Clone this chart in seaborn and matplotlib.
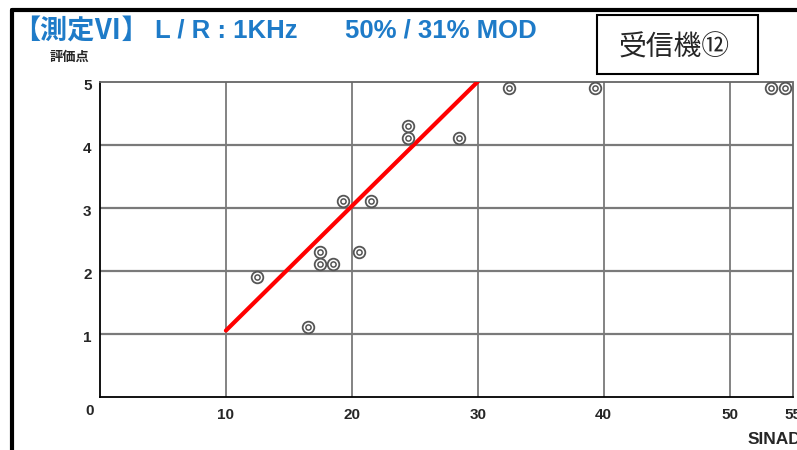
import matplotlib
matplotlib.use("Agg")
import matplotlib.pyplot as plt
import seaborn as sns
import pandas as pd
from matplotlib.lines import Line2D
from matplotlib.patches import Rectangle
from matplotlib.transforms import ScaledTranslation

# ---- data ----
sinad = [12.5, 16.5, 17.5, 17.5, 18.5, 20.6, 19.3, 21.5, 24.5, 24.5, 28.5, 32.5, 39.3, 53.3, 54.4]
score = [1.9, 1.1, 2.3, 2.1, 2.1, 2.3, 3.1, 3.1, 4.3, 4.1, 4.1, 4.9, 4.9, 4.9, 4.9]
fit_x = [10, 30]
fit_y = [1.05, 5.0]
x_ticks = [10, 20, 30, 40, 50, 55]
y_ticks = [1, 2, 3, 4, 5]
title_parts = ["【測定Ⅵ】", "L / R : 1KHz", "50% / 31% MOD"]
ylabel = "評価点"
xlabel = "SINAD"
receiver = "受信機⑫"

sns.set_theme(style="white")
plt.rcParams['font.family'] = ['Noto Sans CJK JP', 'DejaVu Sans']

fig = plt.figure(figsize=(7.97, 4.5), dpi=100)
ax = fig.add_axes([100/797, 1-396.7/450, (792.5-100)/797, (396.7-81.7)/450])

df = pd.DataFrame({"x": sinad, "y": score})
dfl = pd.DataFrame({"x": fit_x, "y": fit_y})

ax.set_xlim(0, 55)
ax.set_ylim(0, 5)

# grid
for xv in [10, 20, 30, 40, 50]:
    ax.axvline(xv, color="#7a7a7a", lw=1.3, zorder=1)
for yv in [1, 2, 3, 4]:
    ax.axhline(yv, color="#7a7a7a", lw=1.6, zorder=1)

sns.lineplot(data=dfl, x="x", y="y", color="#ff0000", lw=3, ax=ax, zorder=3)
sns.scatterplot(data=df, x="x", y="y", s=70, facecolor="white", edgecolor="#555555",
                linewidth=1.3, ax=ax, zorder=4)
sns.scatterplot(data=df, x="x", y="y", s=14, facecolor="white", edgecolor="#555555",
                linewidth=1.1, ax=ax, zorder=5)

for side in ["left", "bottom"]:
    ax.spines[side].set_color("black")
    ax.spines[side].set_linewidth(1.3)
for side in ["top", "right"]:
    ax.spines[side].set_color("#666666")
    ax.spines[side].set_linewidth(1.3)
    ax.spines[side].set_linestyle((0, (1, 1)))

tick_font = dict(fontsize=11, fontweight="bold", family=["Liberation Sans"])
ax.set_xticks(x_ticks)
ax.set_xticklabels([str(t) for t in x_ticks], **tick_font)
ax.set_yticks(y_ticks)
ax.set_yticklabels([str(t) for t in y_ticks], **tick_font)
ax.tick_params(axis="both", length=0)
ax.tick_params(axis="x", pad=8)
ax.tick_params(axis="y", pad=6)
shift = ScaledTranslation(0, -4/100, fig.dpi_scale_trans)
for lab in ax.get_yticklabels():
    lab.set_va("center")
    lab.set_transform(lab.get_transform() + shift)
ax.set_xlabel("")
ax.set_ylabel("")

fig.text(90/797, 1-411/450, "0", ha="center", va="center", **tick_font)
fig.text(748/797, 1-440/450, xlabel, ha="left", va="center",
         fontsize=12.5, fontweight="bold", family=["Liberation Sans"])
fig.text(50/797, 1-57/450, ylabel, fontsize=9.5, fontweight="bold", ha="left", va="center")

title_x = [13, 155, 345]
title_fam = [["Noto Sans CJK JP"], ["Liberation Sans"], ["Liberation Sans"]]
title_fs = [19.5, 18.5, 18.5]
for px, part, fam, fs in zip(title_x, title_parts, title_fam, title_fs):
    fig.text(px/797, 1-31/450, part, fontsize=fs, fontweight="bold", color="#1E7BC8",
             ha="left", va="center", family=fam)

# frame lines
fig.add_artist(Line2D([12/797, 12/797], [0, 1-10/450], color="black", lw=3, transform=fig.transFigure))
fig.add_artist(Line2D([12/797, 1], [1-10/450, 1-10/450], color="black", lw=3, transform=fig.transFigure))

# receiver box
fig.add_artist(Rectangle((597/797, 1-74/450), (758-597)/797, (74-15)/450, fill=False,
                         edgecolor="black", lw=1.5, transform=fig.transFigure))
fig.text(674/797, 1-48/450, receiver, fontsize=20, ha="center", va="center")

fig.savefig("out.png", dpi=100)
